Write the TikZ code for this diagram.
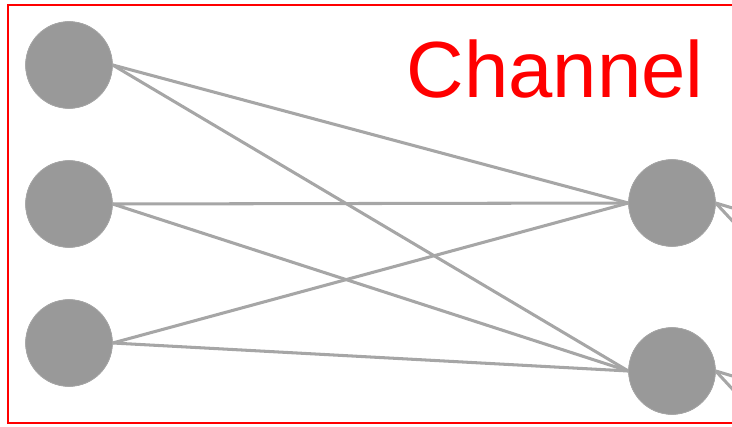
\documentclass[tikz,border=0pt]{standalone}
\usepackage{fontspec}
\setmainfont{Liberation Sans}
\usepackage{xcolor}
\definecolor{ChanGray}{HTML}{999999}
\definecolor{ChanEdge}{HTML}{A6A6A6}
\definecolor{ChanRed}{HTML}{FF0000}
\usepackage{tikz}
\usetikzlibrary{positioning}
\tikzset{
  cnode/.style={circle,draw=ChanEdge,fill=ChanGray,line width=0.6pt,minimum size=2.6cm,inner sep=0pt},
  clink/.style={draw=ChanEdge,line width=2.6pt},
  cframe/.style={draw=ChanRed,line width=1.5pt},
  clabel/.style={text=ChanRed,font=\fontsize{68}{72}\selectfont,inner sep=0pt}
}

\begin{document}
\begin{tikzpicture}[x=0.03cm,y=-0.03cm]
  \useasboundingbox (0,0) rectangle (732,427);
  \clip (0,0) rectangle (732,427);
  \draw[cframe] (8,5) rectangle (760,423);
  \node[clabel,anchor=base] (title) at (555,98) {Channel};
  % disc centres
  \coordinate (in1) at (69,65);
  \coordinate (in2) at (69,204);
  \coordinate (in3) at (69,343);
  \coordinate (out1) at (672,203);
  \coordinate (out2) at (672,371);
  \node[cnode] (n1) at (in1) {};
  \node[cnode] (n2) at (in2) {};
  \node[cnode] (n3) at (in3) {};
  \node[cnode] (m1) at (out1) {};
  \node[cnode] (m2) at (out2) {};
  % off-picture ends
  \coordinate (far1) at (900,258);
  \coordinate (far2) at (900,400);
  \coordinate (far3) at (900,426);
  \coordinate (far4) at (900,570);
  \foreach \a in {n1,n2,n3}
    \foreach \b in {m1,m2}
      \draw[clink] (\a.east) -- (\b.west);
  \draw[clink] (m1.east) -- (far1);
  \draw[clink] (m1.east) -- (far2);
  \draw[clink] (m2.east) -- (far3);
  \draw[clink] (m2.east) -- (far4);
  % redraw the discs on top of the link ends
  \foreach \c in {in1,in2,in3,out1,out2}
    \node[cnode] at (\c) {};
\end{tikzpicture}
\end{document}
